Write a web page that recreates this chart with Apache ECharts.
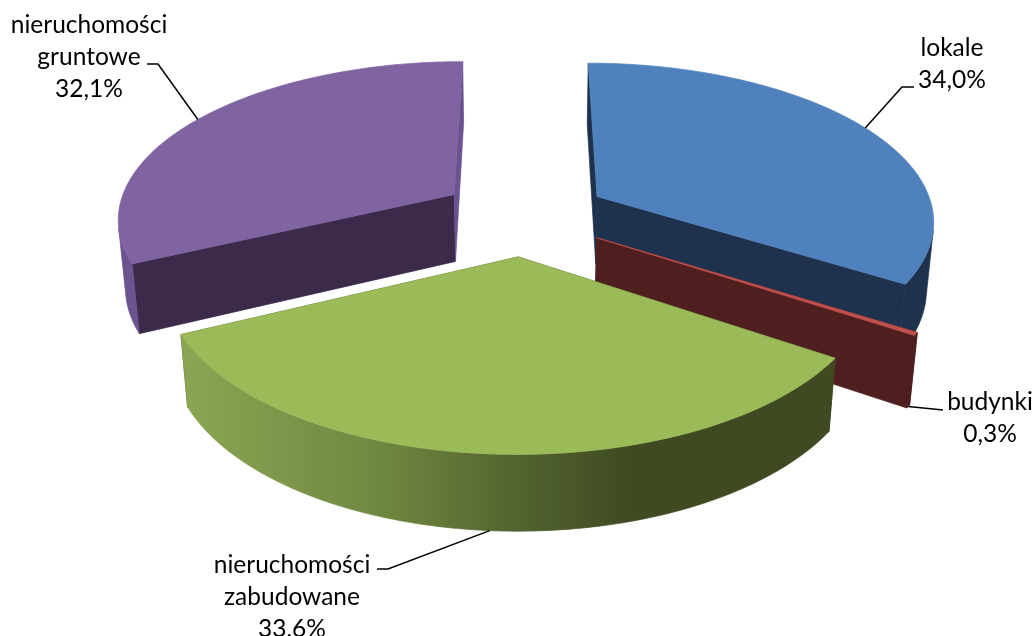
<!DOCTYPE html>
<html>
<head>
<meta charset="utf-8">
<style>html,body{margin:0;padding:0;background:#fff}#chart{width:1035px;height:636px;overflow:hidden}</style>
<script src="https://cdn.jsdelivr.net/npm/echarts@6/dist/echarts.min.js"></script>
</head>
<body>
<div id="chart"></div>
<script>
// Udział poszczególnych rodzajów nieruchomości (%)
const categories = ['lokale', 'budynki', 'nieruchomości\nzabudowane', 'nieruchomości\ngruntowe'];
const shares = [34.0, 0.3, 33.6, 32.1];
const total = shares.reduce((a, b) => a + b, 0);

// Kolory ścian: wierzch, ściana promieniowa, ściana zewnętrzna
const topColors = ['#4f81bd', '#c0504d', '#9bbb59', '#8064a2'];
const radialColors = [
  ['#1e324d', '#1e324d'], ['#4f1f1f', '#4f1f1f'], ['#3f4a22', '#3f4a22'], ['#3b2a4a', '#6b5390']
];
const rimColors = [
  '#1e324d', '#4f1f1f',
  new echarts.graphic.LinearGradient(188, 0, 630, 0, [
    { offset: 0, color: '#8aa553' }, { offset: 0.45, color: '#6f8640' },
    { offset: 0.72, color: '#556630' }, { offset: 1, color: '#3f4a22' }
  ], true),
  '#6b5390'
];

// Rzut perspektywiczny płaskiego układu tortu na ekran
const view = { x0: 524.3, y0: 215.5, A: 331, B: 157, p: 0.14, q: 0.018, D: 69, explode: 0.255, rx: 1.02 };
function project(X, Y, Z) {
  const w = 1 + view.p * Y + view.q * Z;
  return [view.x0 + view.A * X / w, view.y0 + (-view.B * Y + view.D * Z) / w];
}
const rad = d => d * Math.PI / 180;

// Rozmieszczenie opisów i załamań linii odniesienia
const labelLayout = [
  { x: 952, y: 64.5, elbow: [[914, 87], [902, 87]], rim: 0 },
  { x: 990, y: 418.5, elbow: [[943, 410]], rim: 1 },
  { x: 292, y: 597.5, elbow: [[377, 569], [388, 569]], rim: 1 },
  { x: 89, y: 57, elbow: [[147, 64], [158, 64]], rim: 0 }
];

function renderSlice(params, api) {
  const i = params.dataIndex;
  const before = shares.slice(0, i).reduce((a, b) => a + b, 0);
  const a0 = echarts.number.linearMap(before, [0, total], [0, 360]);
  const a1 = echarts.number.linearMap(before + api.value(1), [0, total], [0, 360]);
  const mid = (a0 + a1) / 2;
  const cx = view.explode * Math.sin(rad(mid));
  const cy = view.explode * Math.cos(rad(mid));
  const onRim = (a, z) => project(cx + view.rx * Math.sin(rad(a)), cy + Math.cos(rad(a)), z);

  const angles = [];
  const steps = Math.max(2, Math.ceil(a1 - a0));
  for (let k = 0; k <= steps; k++) angles.push(a0 + (a1 - a0) * k / steps);

  const children = [];
  // Każda ściana dostaje cienki obrys w kolorze wypełnienia, żeby nie było szwów na styku
  const poly = (points, fill) => children.push({
    type: 'polygon', shape: { points },
    style: { fill, stroke: fill, lineWidth: 0.7 },
    z2: i * 10 + children.length
  });

  // ściany promieniowe
  [a0, a1].forEach((a, n) => poly([project(cx, cy, 0), onRim(a, 0), onRim(a, 1), project(cx, cy, 1)], radialColors[i][n]));

  // ściana zewnętrzna: tylko fragmenty zwrócone ku widzowi
  let run = [];
  const flush = () => {
    if (run.length > 1) poly(run.map(a => onRim(a, 0)).concat(run.slice().reverse().map(a => onRim(a, 1))), rimColors[i]);
    run = [];
  };
  for (let k = 0; k < steps; k++) {
    const t0 = onRim(angles[k], 0), t1 = onRim(angles[k + 1], 0), b0 = onRim(angles[k], 1);
    const facing = (t1[0] - t0[0]) * (b0[1] - t0[1]) - (t1[1] - t0[1]) * (b0[0] - t0[0]) < 0;
    if (facing) { if (!run.length) run.push(angles[k]); run.push(angles[k + 1]); } else flush();
  }
  flush();

  // wierzch
  poly([project(cx, cy, 0)].concat(angles.map(a => onRim(a, 0))), topColors[i]);

  // opis i linia odniesienia
  const lay = labelLayout[i];
  children.push({
    type: 'polyline', z2: 1000,
    shape: { points: lay.elbow.concat([onRim(mid, lay.rim)]) },
    style: { stroke: '#000', lineWidth: 1.5, fill: null }
  });
  children.push({
    type: 'text', z2: 1001,
    style: {
      text: categories[i] + '\n' + api.value(1).toFixed(1).replace('.', ',') + '%',
      x: lay.x, y: lay.y, align: 'center', verticalAlign: 'middle',
      fontFamily: 'Lato', fontSize: 24.5, lineHeight: 32, fill: '#000'
    }
  });
  return { type: 'group', children };
}

const chart = echarts.init(document.getElementById('chart'), null, { renderer: 'canvas' });
chart.setOption({
  backgroundColor: '#fff',
  animation: false,
  series: [{
    type: 'custom',
    coordinateSystem: 'none',
    clip: false,
    silent: true,
    data: shares.map((v, i) => [i, v]),
    renderItem: renderSlice
  }]
});
</script>
</body>
</html>
